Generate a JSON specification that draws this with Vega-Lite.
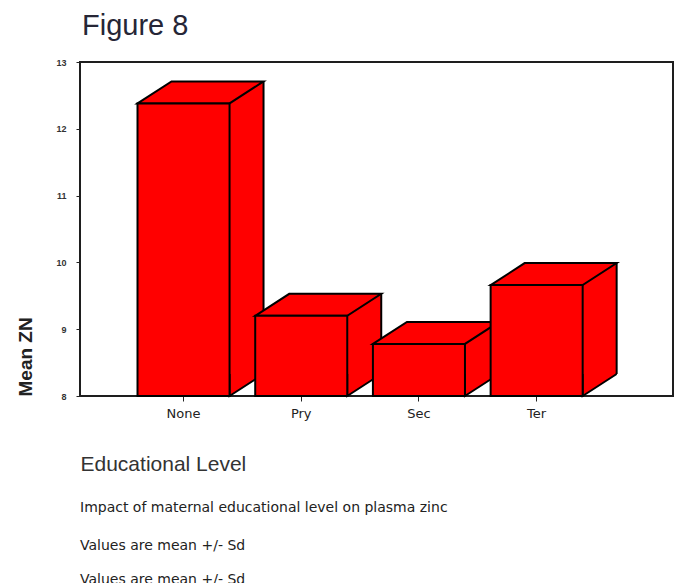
{
  "$schema": "https://vega.github.io/schema/vega-lite/v6.json",
  "background": "white",
  "padding": {"left": 15, "top": 12, "right": 5, "bottom": 0},
  "config": {
    "font": "Liberation Sans",
    "view": {"stroke": "#1e1e1e", "strokeWidth": 2}
  },
  "title": {
    "text": "Figure 8",
    "anchor": "start",
    "frame": "group",
    "dx": 2,
    "offset": 16,
    "font": "Liberation Sans",
    "fontSize": 29,
    "fontWeight": "normal",
    "color": "#262636"
  },
  "vconcat": [
    {
      "width": 593,
      "height": 334,
      "data": {
        "values": [
          {"level": "None", "mean": 12.38},
          {"level": "Pry", "mean": 9.2},
          {"level": "Sec", "mean": 8.78},
          {"level": "Ter", "mean": 9.66}
        ]
      },
      "title": {
        "text": "Impact of maternal educational level on plasma zinc",
        "subtitle": ["Values are mean +/- Sd", "Values are mean +/- Sd"],
        "orient": "bottom",
        "anchor": "start",
        "frame": "group",
        "offset": 27,
        "font": "DejaVu Sans",
        "fontSize": 14,
        "fontWeight": "normal",
        "color": "#222222",
        "subtitleFont": "DejaVu Sans",
        "subtitleFontSize": 14,
        "subtitleColor": "#222222",
        "subtitlePadding": 24,
        "subtitleLineHeight": 34
      },
      "encoding": {
        "x": {
          "field": "level",
          "type": "nominal",
          "sort": null,
          "scale": {"paddingInner": 0.218, "paddingOuter": 0.628, "align": 0.389},
          "axis": {
            "labelAngle": 0,
            "domain": false,
            "tickSize": 5,
            "tickColor": "#222222",
            "labelFont": "DejaVu Sans",
            "labelFontSize": 13,
            "labelColor": "#222222",
            "labelPadding": 6,
            "title": "Educational Level",
            "titleFont": "Liberation Sans",
            "titleFontSize": 21,
            "titleFontWeight": "normal",
            "titleColor": "#333333",
            "titleAnchor": "start",
            "titlePadding": 33
          }
        },
        "y": {
          "field": "mean",
          "type": "quantitative",
          "scale": {"domain": [8, 13], "nice": false, "zero": false},
          "axis": {
            "values": [8, 9, 10, 11, 12, 13],
            "grid": false,
            "domain": false,
            "tickSize": 4,
            "tickColor": "#222222",
            "labelFont": "Liberation Sans",
            "labelFontSize": 9,
            "labelFontWeight": "bold",
            "labelColor": "#333333",
            "labelPadding": 10,
            "title": "Mean ZN",
            "titleFont": "Liberation Sans",
            "titleFontSize": 19,
            "titleFontWeight": "bold",
            "titleColor": "#222222",
            "titleAnchor": "start",
            "titlePadding": 20
          }
        }
      },
      "layer": [
        {
          "description": "side face body, shifted back by the box depth",
          "mark": {"type": "bar", "width": 34, "xOffset": 63, "yOffset": -22, "y2Offset": -22, "fill": "#ff0000"},
          "encoding": {"y2": {"datum": 8}}
        },
        {
          "description": "back vertical edge of the side face",
          "mark": {"type": "rule", "xOffset": 80, "yOffset": -22, "y2Offset": -22, "stroke": "#000000", "strokeWidth": 2},
          "encoding": {"y2": {"datum": 8}}
        },
        {
          "description": "lower wedge of the side face, resting on the floor",
          "mark": {"type": "point", "shape": "M 46 -22 L 46 0 L 80 -22", "size": 4, "filled": true, "fill": "#ff0000", "stroke": "#000000", "strokeWidth": 2, "opacity": 1},
          "encoding": {"y": {"datum": 8}}
        },
        {
          "description": "top face of the box",
          "mark": {"type": "point", "shape": "M -46 0 L -12 -22 L 80 -22 L 46 0 Z", "size": 4, "filled": true, "fill": "#ff0000", "stroke": "#000000", "strokeWidth": 2, "opacity": 1}
        },
        {
          "description": "front face of the box",
          "mark": {"type": "bar", "fill": "#ff0000", "stroke": "#000000", "strokeWidth": 2},
          "encoding": {"y2": {"datum": 8}}
        }
      ]
    }
  ]
}
